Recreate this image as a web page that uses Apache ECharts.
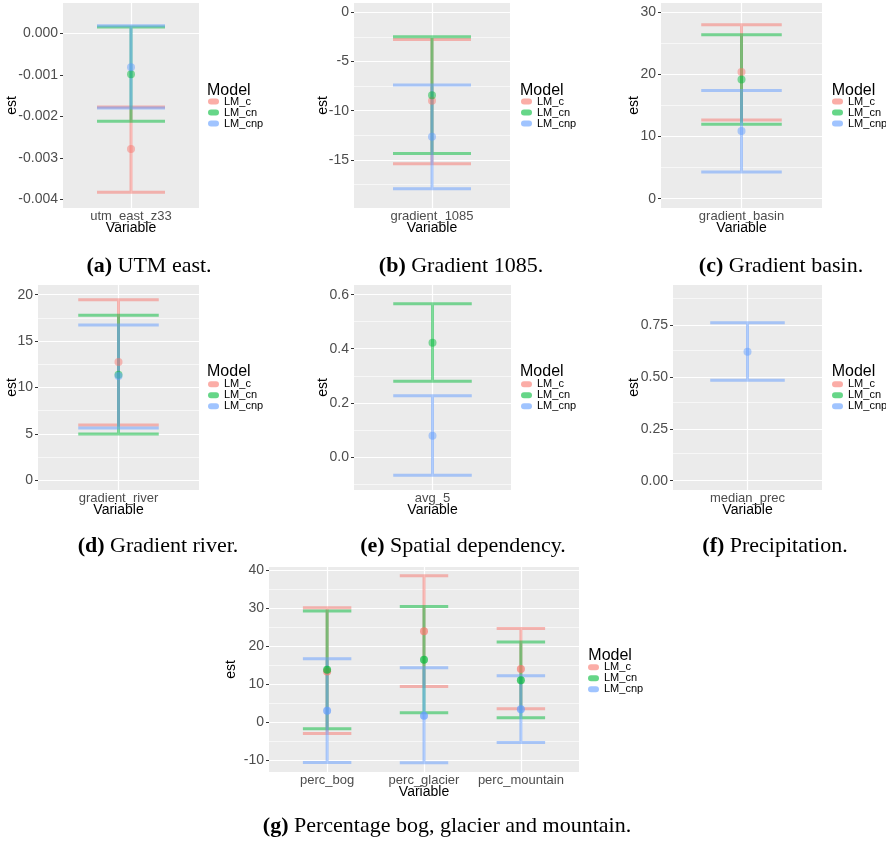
<!DOCTYPE html>
<html>
<head>
<meta charset="utf-8">
<script src="https://cdn.jsdelivr.net/npm/echarts@6.0.0/dist/echarts.min.js"></script>
<style>
  html, body { margin: 0; background: #fff; }
  #chart { width: 886px; height: 842px; }
</style>
</head>
<body>
<div id="chart"></div>
<script>
const models = ['LM_c', 'LM_cn', 'LM_cnp'];
const modelColors = ['#F8766D', '#00BA38', '#619CFF'];

// (a) UTM east  -- rows are models, columns are variables
const utmVars = ['utm_east_z33'];
const utmEst = [[-0.00279], [-0.000985], [-0.00082]];
const utmLow = [[-0.00383], [-0.00212], [-0.00180]];
const utmHigh = [[-0.001775], [0.00015], [0.00018]];
const utmTicks = [0, -0.001, -0.002, -0.003, -0.004];
const utmMinor = [0.0005, -0.0005, -0.0015, -0.0025, -0.0035];

// (b) gradient 1085
const g1085Vars = ['gradient_1085'];
const g1085Est = [[-9.0], [-8.44], [-12.65]];
const g1085Low = [[-15.4], [-14.36], [-17.93]];
const g1085High = [[-2.76], [-2.49], [-7.39]];
const g1085Ticks = [0, -5, -10, -15];
const g1085Minor = [-2.5, -7.5, -12.5, -17.5];

// (c) gradient basin
const basinVars = ['gradient_basin'];
const basinEst = [[20.4], [19.2], [10.9]];
const basinLow = [[12.68], [12.0], [4.3]];
const basinHigh = [[28.0], [26.4], [17.4]];
const basinTicks = [0, 10, 20, 30];
const basinMinor = [5, 15, 25];

// (d) gradient river
const riverVars = ['gradient_river'];
const riverEst = [[12.75], [11.38], [11.24]];
const riverLow = [[5.96], [4.99], [5.64]];
const riverHigh = [[19.45], [17.78], [16.73]];
const riverTicks = [0, 5, 10, 15, 20];
const riverMinor = [2.5, 7.5, 12.5, 17.5];

// (e) spatial dependency
const avgVars = ['avg_5'];
const avgEst = [[null], [0.422], [0.078]];
const avgLow = [[null], [0.280], [-0.068]];
const avgHigh = [[null], [0.567], [0.226]];
const avgTicks = [0, 0.2, 0.4, 0.6];
const avgMinor = [-0.1, 0.1, 0.3, 0.5];

// (f) precipitation
const precVars = ['median_prec'];
const precEst = [[null], [null], [0.621]];
const precLow = [[null], [null], [0.484]];
const precHigh = [[null], [null], [0.761]];
const precTicks = [0, 0.25, 0.5, 0.75];
const precMinor = [0.125, 0.375, 0.625, 0.875];

// (g) percentage bog, glacier, mountain
const percVars = ['perc_bog', 'perc_glacier', 'perc_mountain'];
const percEst = [[13.3, 23.9, 14.0], [13.8, 16.4, 11.05], [3.0, 1.7, 3.4]];
const percLow = [[-3.0, 9.4, 3.5], [-1.7, 2.5, 1.14], [-10.6, -10.7, -5.35]];
const percHigh = [[30.1, 38.5, 24.6], [29.2, 30.4, 21.05], [16.7, 14.3, 12.2]];
const percTicks = [-10, 0, 10, 20, 30, 40];
const percMinor = [-5, 5, 15, 25, 35];

const panels = [
  { id: 'a', caption: 'UTM east.', vars: utmVars, est: utmEst, low: utmLow, high: utmHigh,
    ticks: utmTicks, minor: utmMinor, digits: 3, yMin: -0.00421, yMax: 0.00073,
    box: [63, 3, 136, 205], estGap: 44, cap: 0.6, ptAlpha: 0.6,
    legend: [214, 101], legendTitle: [207, 90.7], capPos: [149, 266] },
  { id: 'b', caption: 'Gradient 1085.', vars: g1085Vars, est: g1085Est, low: g1085Low, high: g1085High,
    ticks: g1085Ticks, minor: g1085Minor, digits: 0, yMin: -19.9, yMax: 0.95,
    box: [354, 3, 156, 205], estGap: 24, cap: 0.6, ptAlpha: 0.6,
    legend: [527, 101], legendTitle: [520, 90.7], capPos: [461, 266] },
  { id: 'c', caption: 'Gradient basin.', vars: basinVars, est: basinEst, low: basinLow, high: basinHigh,
    ticks: basinTicks, minor: basinMinor, digits: 0, yMin: -1.5, yMax: 31.5,
    box: [661, 3, 161, 205], estGap: 20, cap: 0.6, ptAlpha: 0.6,
    legend: [838, 101], legendTitle: [831.7, 90.7], capPos: [781, 266] },
  { id: 'd', caption: 'Gradient river.', vars: riverVars, est: riverEst, low: riverLow, high: riverHigh,
    ticks: riverTicks, minor: riverMinor, digits: 0, yMin: -1.05, yMax: 21.05,
    box: [38, 285, 161, 205], estGap: 19, cap: 0.6, ptAlpha: 0.6,
    legend: [214, 383.7], legendTitle: [207, 372], capPos: [158, 546] },
  { id: 'e', caption: 'Spatial dependency.', vars: avgVars, est: avgEst, low: avgLow, high: avgHigh,
    ticks: avgTicks, minor: avgMinor, digits: 1, yMin: -0.123, yMax: 0.636,
    box: [354, 285, 157, 205], estGap: 24, cap: 0.6, ptAlpha: 0.6,
    legend: [527, 383.7], legendTitle: [520, 372], capPos: [463, 546] },
  { id: 'f', caption: 'Precipitation.', vars: precVars, est: precEst, low: precLow, high: precHigh,
    ticks: precTicks, minor: precMinor, digits: 2, yMin: -0.045, yMax: 0.943,
    box: [673, 285, 149, 205], estGap: 32, cap: 0.6, ptAlpha: 0.6,
    legend: [838, 383.7], legendTitle: [831.7, 372], capPos: [775, 546] },
  { id: 'g', caption: 'Percentage bog, glacier and mountain.', vars: percVars, est: percEst, low: percLow, high: percHigh,
    ticks: percTicks, minor: percMinor, digits: 0, yMin: -13.1, yMax: 40.8,
    box: [269, 567, 310, 205], estGap: 31, cap: 0.5, ptAlpha: 0.85,
    legend: [594, 666.7], legendTitle: [588.3, 655.7], capPos: [447, 826] }
];

const sans = 'Liberation Sans, Arial, sans-serif';
const serif = 'Liberation Serif, Times New Roman, serif';
const capsule = 'path://M3,0 H8 A3,3 0 0 1 8,6 H3 A3,3 0 0 1 3,0 Z';

function rgba(hex, a) {
  const n = parseInt(hex.slice(1), 16);
  return `rgba(${(n >> 16) & 255},${(n >> 8) & 255},${n & 255},${a})`;
}

const option = {
  animation: false,
  backgroundColor: '#fff',
  grid: [], xAxis: [], yAxis: [], series: [], legend: [], title: []
};

panels.forEach((p, i) => {
  const cats = p.vars.map((_, k) => k + 1);

  option.grid.push({
    left: p.box[0], top: p.box[1], width: p.box[2], height: p.box[3],
    show: true, backgroundColor: '#EBEBEB', borderWidth: 0, containLabel: false
  });

  option.xAxis.push({
    gridIndex: i, type: 'value', min: 0.4, max: p.vars.length + 0.6,
    name: 'Variable', nameLocation: 'middle', nameGap: 13, nameMoveOverlap: false,
    nameTextStyle: { fontFamily: sans, fontSize: 14, color: '#000' },
    axisLine: { show: false },
    splitLine: { show: false },
    axisTick: { customValues: cats, length: 3, lineStyle: { color: '#333' } },
    axisLabel: {
      customValues: cats, margin: 2, fontFamily: sans, fontSize: 13, color: '#4D4D4D',
      formatter: v => p.vars[Math.round(v) - 1]
    }
  });

  option.yAxis.push({
    gridIndex: i, type: 'value', min: p.yMin, max: p.yMax,
    name: 'est', nameLocation: 'middle', nameRotate: 90, nameGap: p.estGap, nameMoveOverlap: false,
    nameTextStyle: { fontFamily: sans, fontSize: 14, color: '#000' },
    axisLine: { show: false },
    splitLine: { show: false },
    axisTick: { customValues: p.ticks, length: 3, lineStyle: { color: '#333' } },
    axisLabel: {
      customValues: p.ticks, margin: 5, fontFamily: sans, fontSize: 14, color: '#4D4D4D',
      formatter: v => v.toFixed(p.digits)
    }
  });

  // white grid lines, kept under the marks
  option.series.push({
    type: 'line', xAxisIndex: i, yAxisIndex: i, data: [], z: 1, silent: true,
    markLine: {
      z: 1, silent: true, symbol: ['none', 'none'], label: { show: false }, animation: false,
      emphasis: { disabled: true },
      data: [
        ...p.minor.map(v => ({ yAxis: v, lineStyle: { color: '#fff', width: 0.6, type: 'solid' } })),
        ...p.ticks.map(v => ({ yAxis: v, lineStyle: { color: '#fff', width: 1.2, type: 'solid' } })),
        ...cats.map(v => ({ xAxis: v, lineStyle: { color: '#fff', width: 1.2, type: 'solid' } }))
      ]
    }
  });

  // error bars
  models.forEach((m, j) => {
    const data = [];
    cats.forEach((x, k) => {
      if (p.low[j][k] != null) data.push([x, p.low[j][k], p.high[j][k]]);
    });
    const stroke = rgba(modelColors[j], 0.5);
    option.series.push({
      type: 'custom', name: m, xAxisIndex: i, yAxisIndex: i, z: 10, silent: true,
      data: data,
      renderItem: (params, api) => {
        const x = api.value(0);
        const lo = api.coord([x, api.value(1)]);
        const hi = api.coord([x, api.value(2)]);
        const half = api.size([p.cap, 0])[0] / 2;
        return {
          type: 'polyline',
          shape: {
            points: [
              [hi[0] - half, hi[1]], [hi[0] + half, hi[1]], [hi[0], hi[1]],
              [lo[0], lo[1]], [lo[0] - half, lo[1]], [lo[0] + half, lo[1]]
            ]
          },
          style: { stroke: stroke, lineWidth: 3, fill: 'none', lineCap: 'butt', lineJoin: 'miter' }
        };
      }
    });
  });

  // point estimates
  models.forEach((m, j) => {
    const data = [];
    cats.forEach((x, k) => {
      if (p.est[j][k] != null) data.push([x, p.est[j][k]]);
    });
    option.series.push({
      type: 'scatter', name: m, xAxisIndex: i, yAxisIndex: i, z: 11, silent: true,
      symbol: 'circle', symbolSize: 8,
      itemStyle: { color: rgba(modelColors[j], p.ptAlpha) },
      data: data
    });
  });

  option.legend.push({
    left: p.legend[0] - 6, top: p.legend[1] - 5, orient: 'vertical',
    itemWidth: 11, itemHeight: 6, itemGap: 0, padding: 0, icon: capsule,
    selectedMode: false,
    textStyle: { fontFamily: sans, fontSize: 11, lineHeight: 10, color: '#000' },
    data: models.map((m, j) => ({ name: m, itemStyle: { color: rgba(modelColors[j], 0.6) } }))
  });

  option.title.push({
    text: 'Model', left: p.legendTitle[0], top: p.legendTitle[1] - 8, padding: 0,
    textStyle: { fontFamily: sans, fontSize: 16, lineHeight: 16, fontWeight: 'normal', color: '#000' }
  });

  option.title.push({
    text: '{b|(' + p.id + ')} ' + p.caption,
    left: p.capPos[0], top: p.capPos[1] - 11, textAlign: 'center', padding: 0,
    textStyle: {
      fontFamily: serif, fontSize: 22, lineHeight: 22, fontWeight: 'normal', color: '#000',
      rich: { b: { fontFamily: serif, fontSize: 22, lineHeight: 22, fontWeight: 'bold', color: '#000' } }
    }
  });
});

const chart = echarts.init(document.getElementById('chart'));
chart.setOption(option);
</script>
</body>
</html>
